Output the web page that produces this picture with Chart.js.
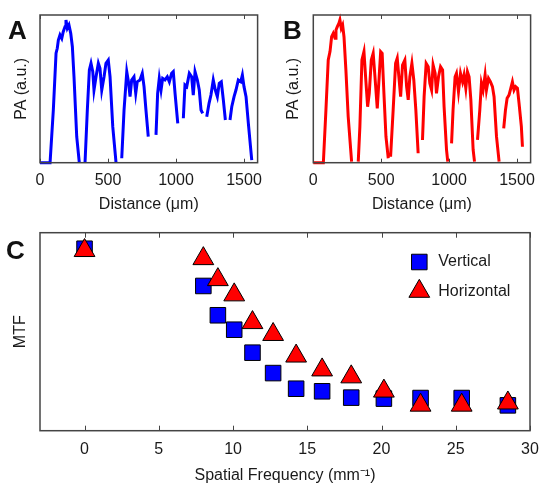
<!DOCTYPE html>
<html>
<head>
<meta charset="utf-8">
<script src="https://cdn.jsdelivr.net/npm/chart.js"></script>
<style>
  body { margin: 0; background: #fff; }
  #wrap { position: relative; width: 539px; height: 484px; overflow: hidden; }
  canvas { position: absolute; left: 0; top: 0; }
  .tag { position: absolute; font: bold 26px "Liberation Sans", Arial, sans-serif; line-height: 26px; color: #111; }
</style>
</head>
<body>
<div id="wrap">
  <canvas id="chartA" width="539" height="484"></canvas>
  <canvas id="chartB" width="570" height="484"></canvas>
  <canvas id="chartC" width="570" height="484"></canvas>
  <div class="tag" style="left:8px;top:17px">A</div>
  <div class="tag" style="left:283px;top:17px">B</div>
  <div class="tag" style="left:6px;top:237px">C</div>
</div>
<script>
// panel A / B: photoacoustic line profiles (null = break in the trace)
const distA = [0, 74, 98, 118, 127, 135, 147, 160, 171, 184, 191, 201, 213, 226, 238, 250, 270, 289, 310,
  331, 348, 363, 375, 388, 397, 412, 429, 441, 454, 471, 485, 502, 515, 535, 559, 580,
  601, 618, 638, 652, 662, 674, 691, 704, 715, 735, 752, 765, 779, 796, 825,
  853, 865, 877, 890, 902, 919, 936, 951, 968, 980, 993, 1013, 1033,
  1054, 1066, 1079, 1098, 1115, 1127, 1140, 1157, 1171, 1184, 1196, 1210,
  1226, 1243, 1257, 1274, 1289, 1304, 1318, 1333, 1348, 1363, 1380,
  1397, 1410, 1427, 1441, 1458, 1476, 1488, 1500, 1515, 1532, 1557];
const paA = [0, 0, 0.357, 0.741, 0.775, 0.831, 0.865, 0.842, 0.887, 0.921, 0.966, 0.910, 0.932, 0.876, 0.785, 0.582, 0.176, 0, null,
  0, 0.357, 0.628, 0.673, 0.616, 0.492, 0.582, 0.673, 0.639, 0.492, 0.582, 0.673, 0.695, 0.582, 0.244, 0, null,
  0.030, 0.357, 0.616, 0.538, 0.447, 0.560, 0.582, 0.470, 0.548, 0.560, 0.605, 0.515, 0.357, 0.176, null,
  0.188, 0.470, 0.571, 0.492, 0.571, 0.560, 0.582, 0.548, 0.605, 0.616, 0.470, 0.267, null,
  0.301, 0.526, 0.515, 0.605, 0.582, 0.458, 0.616, 0.560, 0.492, 0.357, 0.334, null,
  0.311, 0.402, 0.458, 0.560, 0.492, 0.447, 0.538, 0.548, 0.425, 0.289, null,
  0.289, 0.379, 0.447, 0.492, 0.560, 0.548, 0.594, 0.515, 0.447, 0.267, 0.018];

const distB = [0, 74, 93, 110, 123, 135, 147, 160, 167, 177, 189, 196, 206, 216, 226, 240, 257, 282, 306,
  331, 343, 358, 373, 385, 400, 412, 427, 441, 454, 471, 485, 496, 507, 520, 535, 552, 560,
  569, 588, 606, 618, 630, 643, 657, 674, 687, 699, 711, 726, 740, 755, 772, 788,
  804, 816, 831, 846, 858, 871, 882, 897, 907, 922, 937, 952, 963, 981, 990, 1004,
  1018, 1029, 1044, 1054, 1069, 1084, 1099, 1110, 1123, 1135, 1147, 1160, 1177, 1187, 1198,
  1209, 1226, 1238, 1250, 1265, 1275, 1290, 1304, 1319, 1331, 1349, 1368, 1385,
  1402, 1415, 1427, 1441, 1454, 1466, 1478, 1490, 1503, 1515, 1532, 1540];
const paB = [0, 0, 0.357, 0.695, 0.752, 0.853, 0.876, 0.842, 0.898, 0.921, 0.944, 0.966, 0.910, 0.932, 0.853, 0.628, 0.311, 0.007, null,
  0.007, 0.244, 0.695, 0.752, 0.582, 0.379, 0.470, 0.695, 0.741, 0.582, 0.368, 0.582, 0.752, 0.741, 0.470, 0.176, 0.030, null,
  0.041, 0.357, 0.673, 0.707, 0.582, 0.447, 0.661, 0.695, 0.515, 0.425, 0.582, 0.673, 0.560, 0.357, 0.064, null,
  0.154, 0.447, 0.673, 0.650, 0.538, 0.492, 0.661, 0.605, 0.470, 0.582, 0.650, 0.628, 0.379, 0.086, 0.007, null,
  0.131, 0.357, 0.582, 0.605, 0.481, 0.605, 0.548, 0.594, 0.504, 0.616, 0.582, 0.425, 0.086, 0.007, null,
  0.154, 0.357, 0.538, 0.492, 0.594, 0.492, 0.571, 0.548, 0.515, 0.447, 0.176, 0.007, null,
  0.233, 0.357, 0.436, 0.458, 0.504, 0.548, 0.492, 0.515, 0.504, 0.402, 0.244, 0.108];

const distTicks = [0, 500, 1000, 1500];

// panel C: MTF vs spatial frequency
const freq = [0, 8.00, 8.98, 10.08, 11.31, 12.70, 14.25, 16.00, 17.96, 20.16, 22.63, 25.40, 28.51];
const mtfVertical = [0.919, 0.731, 0.583, 0.510, 0.394, 0.291, 0.212, 0.199, 0.167, 0.162, 0.165, 0.165, 0.128];
const mtfHorizontal = [0.910, 0.869, 0.763, 0.686, 0.546, 0.486, 0.377, 0.307, 0.272, 0.200, 0.129, 0.129, 0.140];
const freqTicks = [0, 5, 10, 15, 20, 25, 30];

const FONT = '"Liberation Sans", Arial, sans-serif';
const TXT = '#1a1a1a';
Chart.defaults.font.family = FONT;
Chart.defaults.font.size = 16;
Chart.defaults.color = TXT;

function pairs(xs, ys) {
  return xs.map((x, i) => ({ x: x, y: ys[i] }));
}

// box round the plot plus short inward ticks top and bottom (MATLAB look)
const framePlugin = {
  id: 'frame',
  afterDatasetsDraw(chart, args, opts) {
    const { ctx, chartArea: a } = chart;
    const x = chart.scales.x;
    ctx.save();
    ctx.strokeStyle = '#444';
    ctx.lineWidth = 1;
    x.ticks.forEach(t => {
      const px = Math.round(x.getPixelForValue(t.value)) + 0.5;
      ctx.beginPath();
      ctx.moveTo(px, a.bottom);
      ctx.lineTo(px, a.bottom - opts.len);
      ctx.moveTo(px, a.top);
      ctx.lineTo(px, a.top + opts.len);
      ctx.stroke();
    });
    ctx.lineWidth = 1.5;
    ctx.strokeRect(a.left, a.top, a.right - a.left, a.bottom - a.top);
    ctx.restore();
  }
};

// legend inside the plot of panel C
const legendPlugin = {
  id: 'inLegend',
  afterDatasetsDraw(chart, args, opts) {
    if (!opts.show) return;
    const { ctx, chartArea: a } = chart;
    const order = [1, 0];
    ctx.save();
    order.forEach((di, k) => {
      const ds = chart.data.datasets[di];
      const mx = a.right - 110.7;
      const my = a.top + 29.3 + k * 29.3;
      ctx.fillStyle = ds.backgroundColor;
      ctx.strokeStyle = ds.borderColor;
      ctx.lineWidth = ds.borderWidth;
      Chart.helpers.drawPoint(ctx, { pointStyle: ds.pointStyle, radius: ds.pointRadius, rotation: 0, borderWidth: ds.borderWidth }, mx, my);
      ctx.fillStyle = TXT;
      ctx.font = '16px ' + FONT;
      ctx.textBaseline = 'middle';
      ctx.fillText(ds.label, mx + 19, my);
    });
    ctx.restore();
  }
};

function xAxis(min, max, tickVals, title, height, pad) {
  return {
    type: 'linear', min: min, max: max,
    afterBuildTicks: s => { s.ticks = tickVals.map(v => ({ value: v })); },
    afterFit: s => { s.height = height; },
    grid: { display: false, drawTicks: false },
    border: { display: false },
    ticks: { padding: pad, color: TXT, font: { size: 16 }, callback: v => String(v) },
    title: { display: true, text: title, padding: 0, color: TXT, font: { size: 16, lineHeight: 1 } }
  };
}

function yAxis(title, width) {
  return {
    type: 'linear', min: 0, max: 1,
    afterFit: s => { s.width = width; },
    grid: { display: false, drawTicks: false },
    border: { display: false },
    ticks: { display: false },
    title: { display: true, text: title, padding: 0, color: TXT, font: { size: 16, lineHeight: 1 } }
  };
}

function profileChart(id, xs, ys, color, padding, yWidth) {
  return new Chart(document.getElementById(id), {
    type: 'line',
    data: {
      datasets: [{
        data: pairs(xs, ys),
        borderColor: color,
        borderWidth: 3,
        pointRadius: 0,
        tension: 0,
        spanGaps: false,
        clip: 4
      }]
    },
    options: {
      responsive: false,
      animation: false,
      devicePixelRatio: 1,
      layout: { padding: padding },
      scales: {
        x: xAxis(0, 1600, distTicks, 'Distance (μm)', 49.5, 8),
        y: yAxis('PA (a.u.)', yWidth)
      },
      plugins: { legend: { display: false }, tooltip: { enabled: false }, frame: { len: 4 }, inLegend: { show: false } }
    },
    plugins: [framePlugin, legendPlugin]
  });
}

profileChart('chartA', distA, paA, '#0000ff', { left: 14, top: 15, right: 281.4, bottom: 271.8 }, 26);
// canvases B and C are a bit wider than the page so edge labels do not push the box in
profileChart('chartB', distB, paB, '#ff0000', { left: 286, top: 15, right: 39.4, bottom: 271.8 }, 27.3);

new Chart(document.getElementById('chartC'), {
  type: 'scatter',
  data: {
    datasets: [
      {
        label: 'Horizontal',
        data: pairs(freq, mtfHorizontal),
        pointStyle: 'triangle',
        pointRadius: 12,
        backgroundColor: '#ff0000',
        borderColor: '#000000',
        borderWidth: 1,
        clip: false
      },
      {
        label: 'Vertical',
        data: pairs(freq, mtfVertical),
        pointStyle: 'rect',
        pointRadius: 11,
        backgroundColor: '#0000ff',
        borderColor: '#000000',
        borderWidth: 1,
        clip: false
      }
    ]
  },
  options: {
    responsive: false,
    animation: false,
    devicePixelRatio: 1,
    layout: { padding: { left: 12.6, top: 232.7, right: 40, bottom: 0 } },
    scales: {
      x: xAxis(-3, 30, freqTicks, 'Spatial Frequency (mm⁻¹)', 53.3, 9),
      y: yAxis('MTF', 27.4)
    },
    plugins: { legend: { display: false }, tooltip: { enabled: false }, frame: { len: 5 }, inLegend: { show: true } }
  },
  plugins: [framePlugin, legendPlugin]
});
</script>
</body>
</html>
